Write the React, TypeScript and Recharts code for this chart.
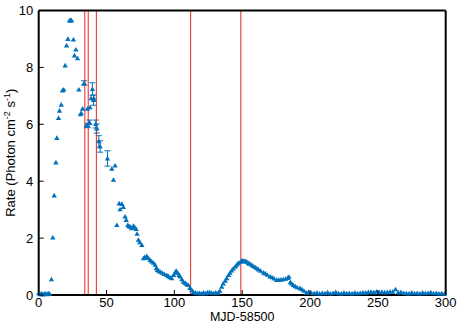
import { ScatterChart, Scatter, XAxis, YAxis, ReferenceLine, ErrorBar, Label } from 'recharts';

const days = [
  0, 1, 2, 3, 4, 5, 6, 7, 8, 9.4, 10.4, 11.4, 12.7, 13.4, 14.6, 15.3, 16.6, 17.5, 18.5, 19.5,
  20.5, 21.5, 22.7, 23.5, 24.2, 25.6, 26.4, 27.4, 28.6, 29.6, 30.8, 31.3, 32.3, 33.5, 35.0, 36.0,
  36.2, 37.4, 37.9, 38.7, 39.6, 40.4, 40.8, 42.1, 42.8, 44.3, 45.3, 50.7, 53.9, 55.1, 56.3, 57.6,
  59.3, 60.0, 61.3, 62.4, 63.7, 64.5, 65.7, 66.5, 67.4, 68.5, 69.8, 70.8, 71.8, 72.5, 73.5, 74.5,
  76.0, 77.2, 78.2, 79.6, 80.8, 82.1, 83.2, 84.6, 85.8, 86.8, 87.5, 88.5, 89.5, 91.0, 92.5, 94.4,
  95.5, 96.8, 98.0, 99.5, 100.5, 101.3, 102.5, 103.5, 104.2, 105.5, 106.6, 108.0, 109.0, 110.3,
  111.5, 112.8, 114.0, 115.5, 117, 118.5, 120, 121.5, 123, 124.5, 126, 127.5, 129, 130.5, 132.4,
  133.5, 134.9, 136.0, 137.5, 138.6, 140, 141, 142.2, 143.5, 145, 146, 147, 148.5, 149.6, 150.5,
  151.5, 152.5, 153.3, 154.5, 155.5, 157, 158, 159.5, 160.7, 162, 163.5, 165.6, 167, 168.5, 170.5,
  172, 173.5, 175.4, 177, 178.5, 180.3, 182, 183.5, 184.5, 185.5, 186.5, 187.6, 189, 190.5, 192.6,
  194, 195.5, 197.5, 199, 201, 203, 205, 207, 209, 211, 213, 215, 217, 219, 221, 223, 225, 227,
  229, 231, 233, 235, 237, 239, 241, 243, 245, 247, 249, 251, 253, 255, 257, 259, 261, 263, 265,
  267, 269, 271, 273, 275, 277, 279, 281, 283, 285, 287, 289, 291, 293, 295, 297, 299,
];

const rates = [
  0.06, 0.03, 0.05, 0.02, 0.04, 0.05, 0.03, 0.06, 0.04, 0.55, 2.02, 3.5, 4.66, 5.52, 6.22, 6.48, 6.69, 7.19, 7.22, 8.07,
  8.77, 9.0, 9.65, 9.66, 9.65, 8.98, 8.42, 8.63, 8.32, 7.22, 6.35, 6.4, 6.55, 7.45, 5.96, 6.55,
  5.96, 6.07, 6.6, 6.92, 7.24, 6.85, 6.9, 6.01, 5.85, 5.4, 5.22, 4.8, 4.44, 4.05, 4.55, 2.46,
  3.22, 3.01, 3.2, 3.09, 2.76, 2.64, 2.46, 2.42, 2.4, 2.35, 2.43, 2.38, 2.32, 2.15, 1.94, 1.85,
  1.76, 1.29, 1.33, 1.37, 1.3, 1.23, 1.18, 1.13, 1.06, 0.95, 0.88, 0.85, 0.82, 0.78, 0.74, 0.7,
  0.66, 0.62, 0.59, 0.7, 0.79, 0.85, 0.78, 0.7, 0.65, 0.55, 0.47, 0.42, 0.38, 0.35,
  0.25, 0.18, 0.1, 0.08, 0.06, 0.07, 0.05, 0.08, 0.06, 0.09, 0.1, 0.07, 0.06, 0.08, 0.08,
  0.15, 0.29, 0.4, 0.5, 0.59, 0.7, 0.78, 0.86, 0.93, 1.0, 1.06, 1.12, 1.16, 1.2, 1.21,
  1.19, 1.18, 1.17, 1.12, 1.1, 1.06, 1.02, 0.98, 0.94, 0.9, 0.85, 0.79, 0.76, 0.71, 0.65,
  0.62, 0.58, 0.53, 0.53, 0.54, 0.55, 0.57, 0.6, 0.64, 0.45, 0.4, 0.35, 0.31, 0.27, 0.24,
  0.2, 0.15, 0.08, 0.1, 0.07, 0.06, 0.08, 0.05, 0.07, 0.06, 0.09, 0.05, 0.07, 0.1, 0.06, 0.05, 0.08, 0.06,
  0.07, 0.05, 0.08, 0.06, 0.07, 0.09, 0.08, 0.1, 0.11, 0.09, 0.12, 0.1, 0.11, 0.09, 0.1, 0.12, 0.11, 0.2, 0.09,
  0.1, 0.07, 0.06, 0.05, 0.08, 0.06, 0.07, 0.05, 0.08, 0.06, 0.07, 0.09, 0.06, 0.07, 0.05, 0.06, 0.04,
];

// only the points whose error bars stick out beyond the marker
const errDays = [33.5, 36.2, 37.4, 39.6, 40.4, 42.1, 42.8, 44.3, 45.3, 50.7];
const errValues = [0.08, 0.08, 0.08, 0.22, 0.18, 0.14, 0.16, 0.2, 0.2, 0.27];

const eventDays = [34, 36.5, 42.5, 112, 149];

const xTicks = [0, 50, 100, 150, 200, 250, 300];
const yTicks = [0, 2, 4, 6, 8, 10];

const data = days.map((d, i) => {
  const k = errDays.indexOf(d);
  return { x: d, y: rates[i], err: k >= 0 ? errValues[k] : 0 };
});

const FONT = '"Liberation Sans", Arial, Helvetica, sans-serif';
const BLUE = '#0072bd';
const RED = '#e8231b';

const Triangle = (p: any) => {
  const { cx, cy } = p;
  if (cx == null || cy == null) return null;
  return <polygon points={`${cx - 2.7},${cy + 2} ${cx + 2.7},${cy + 2} ${cx},${cy - 2.6}`} fill={BLUE} />;
};

const BottomTick = (p: any) => (
  <g>
    <line x1={p.x} y1={p.y} x2={p.x} y2={p.y - 5} stroke="#000" strokeWidth={1} />
    <text x={p.x} y={p.y + 12.2} textAnchor="middle" fontSize={13} fontFamily={FONT} fill="#000">
      {p.payload.value}
    </text>
  </g>
);

const TopTick = (p: any) => <line x1={p.x} y1={p.y} x2={p.x} y2={p.y + 5} stroke="#000" strokeWidth={1} />;

const LeftTick = (p: any) => (
  <g>
    <line x1={p.x} y1={p.y} x2={p.x + 5} y2={p.y} stroke="#000" strokeWidth={1} />
    <text x={p.x - 5.5} y={p.y + 4.6} textAnchor="end" fontSize={13} fontFamily={FONT} fill="#000">
      {p.payload.value}
    </text>
  </g>
);

const RightTick = (p: any) => <line x1={p.x} y1={p.y} x2={p.x - 5} y2={p.y} stroke="#000" strokeWidth={1} />;

const axisLine = { stroke: '#000', strokeWidth: 2 };

export default function App() {
  return (
    <div style={{ position: 'absolute', left: 0, top: 0, background: '#fff' }}>
      <ScatterChart width={463} height={324} margin={{ top: 0, right: 0, bottom: 0, left: 0 }}>
        <XAxis
          xAxisId="b"
          type="number"
          dataKey="x"
          domain={[0, 300]}
          ticks={xTicks}
          interval={0}
          orientation="bottom"
          height={29}
          axisLine={axisLine}
          tickLine={false}
          tickSize={0}
          tickMargin={0}
          tick={<BottomTick />}
        >
          <Label
            content={(lp: any) => {
              const vb = lp.viewBox;
              return (
                <text x={vb.x + vb.width / 2} y={vb.y + 26.3} textAnchor="middle" fontSize={12.5} fontFamily={FONT} fill="#000">
                  MJD-58500
                </text>
              );
            }}
          />
        </XAxis>
        <XAxis
          xAxisId="t"
          type="number"
          dataKey="x"
          domain={[0, 300]}
          ticks={xTicks}
          interval={0}
          orientation="top"
          height={10.5}
          axisLine={axisLine}
          tickLine={false}
          tickSize={0}
          tickMargin={0}
          tick={<TopTick />}
        />
        <YAxis
          yAxisId="l"
          type="number"
          dataKey="y"
          domain={[0, 10]}
          ticks={yTicks}
          interval={0}
          orientation="left"
          width={38.7}
          axisLine={axisLine}
          tickLine={false}
          tickSize={0}
          tickMargin={0}
          tick={<LeftTick />}
        >
          <Label
            content={(lp: any) => {
              const vb = lp.viewBox;
              const cy = vb.y + vb.height / 2;
              return (
                <text
                  transform={`translate(14.6, ${cy}) rotate(-90)`}
                  textAnchor="middle"
                  fontSize={13}
                  fontFamily={FONT}
                  fill="#000"
                >
                  <tspan>Rate (Photon cm</tspan>
                  <tspan fontSize={9} dy={-5}>-2</tspan>
                  <tspan dy={5}> s</tspan>
                  <tspan fontSize={9} dy={-5}>-1</tspan>
                  <tspan dy={5}>)</tspan>
                </text>
              );
            }}
          />
        </YAxis>
        <YAxis
          yAxisId="r"
          type="number"
          dataKey="y"
          domain={[0, 10]}
          ticks={yTicks}
          interval={0}
          orientation="right"
          width={17.3}
          axisLine={axisLine}
          tickLine={false}
          tickSize={0}
          tickMargin={0}
          tick={<RightTick />}
        />
        <Scatter data={data} xAxisId="b" yAxisId="l" shape={<Triangle />} isAnimationActive={false}>
          <ErrorBar dataKey="err" direction="y" width={3} stroke={BLUE} strokeWidth={1} isAnimationActive={false} />
        </Scatter>
        {eventDays.map((d) => (
          <ReferenceLine key={d} x={d} xAxisId="b" yAxisId="l" stroke={RED} strokeWidth={1} />
        ))}
      </ScatterChart>
    </div>
  );
}
